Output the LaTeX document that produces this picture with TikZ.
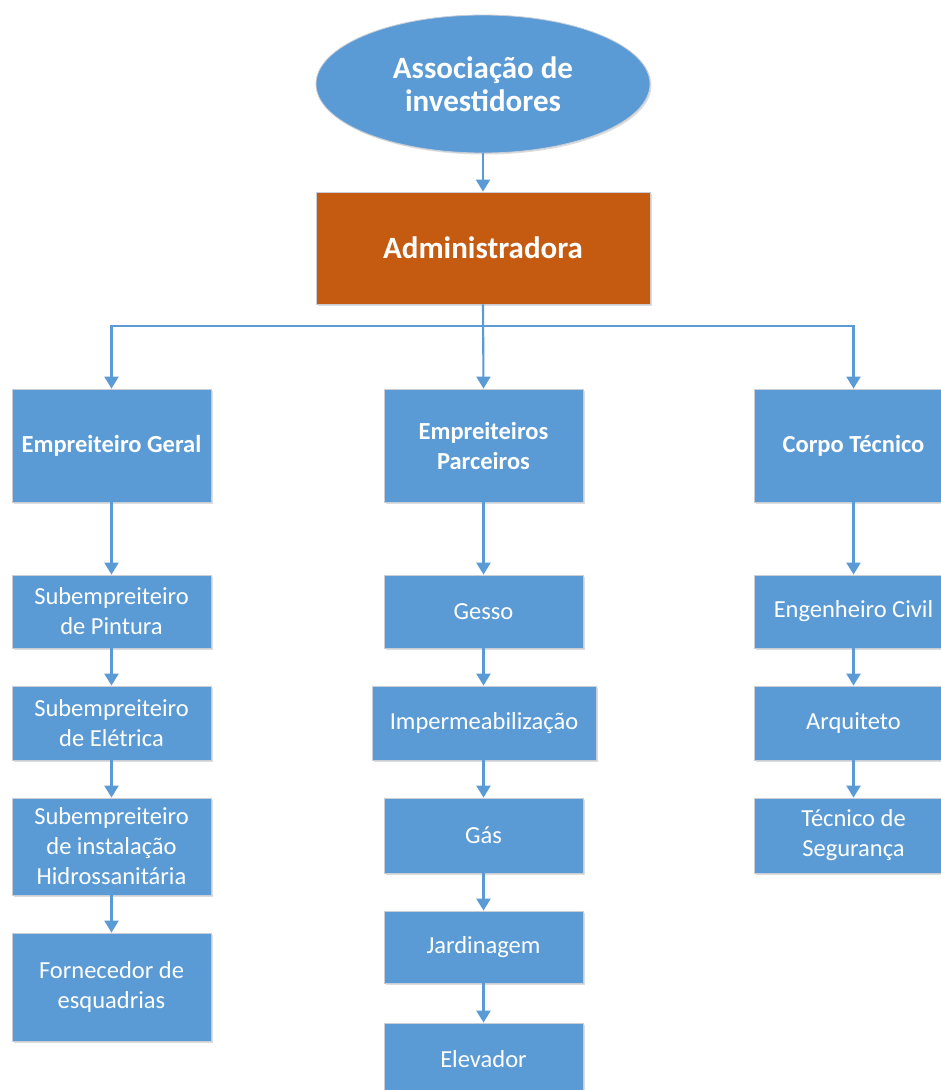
\documentclass[tikz,border=0pt]{standalone}
\usepackage{fontspec}
\setmainfont{Carlito}
\usetikzlibrary{arrows.meta,shapes.geometric,shadows}

\definecolor{boxblue}{HTML}{5B9BD5}
\definecolor{boxorange}{HTML}{C55A11}
\definecolor{edgegray}{HTML}{C9CED6}

\tikzset{
  card/.style={rectangle, fill=boxblue, draw=edgegray, line width=0.8pt,
    text=white, align=center, inner sep=0pt, minimum width=199pt,
    drop shadow={shadow xshift=1.5pt, shadow yshift=-1.5pt, opacity=0.22, fill=black!60}},
  headcard/.style={card, font=\bfseries\fontsize{24.5}{30}\selectfont},
  subcard/.style={card, font=\fontsize{24.5}{30}\selectfont},
  link/.style={draw=boxblue, line width=2.1pt,
    -{Triangle[width=14pt,length=12pt]}},
}

\begin{document}
\begin{tikzpicture}[x=1pt, y=-1pt]
  \useasboundingbox (0,0) rectangle (941,1090);
  \fill[white] (0,0) rectangle (941,1090);
  \clip (0,0) rectangle (941,1090);

  % top of the hierarchy
  \node[ellipse, fill=boxblue, draw=edgegray, line width=0.8pt, text=white,
        minimum width=334pt, minimum height=138pt, inner sep=0pt, align=center,
        font=\bfseries\fontsize{31}{33}\selectfont,
        drop shadow={shadow xshift=1.5pt, shadow yshift=-1.5pt, opacity=0.22, fill=black!60}]
        (assoc) at (483,84) {Associação de\\investidores};
  \node[card, fill=boxorange, minimum width=334pt, minimum height=112pt,
        font=\bfseries\fontsize{31}{33}\selectfont]
        (admin) at (483,248) {Administradora};

  % first level
  \node[headcard, minimum height=113pt] (geral) at (111.5,445.5) {Empreiteiro Geral};
  \node[headcard, minimum height=113pt] (parc)  at (483.5,445.5) {Empreiteiros\\Parceiros};
  \node[headcard, minimum height=113pt] (corpo) at (853.5,445.5) {Corpo Técnico};

  % left column
  \node[subcard, minimum height=73pt]  (pint)  at (111.5,611.5) {Subempreiteiro\\de Pintura};
  \node[subcard, minimum height=74pt]  (elet)  at (111.5,723)   {Subempreiteiro\\de Elétrica};
  \node[subcard, minimum height=97pt]  (hidro) at (111.5,846.5) {Subempreiteiro\\de instalação\\Hidrossanitária};
  \node[subcard, minimum height=108pt] (forn)  at (111.5,987)   {Fornecedor de\\esquadrias};

  % middle column
  \node[subcard, minimum height=73pt] (gesso) at (483.5,611.5) {Gesso};
  \node[subcard, minimum height=74pt, minimum width=224pt] (imper) at (484,723) {Impermeabilização};
  \node[subcard, minimum height=75pt] (gas)   at (483.5,835.5) {Gás};
  \node[subcard, minimum height=72pt] (jard)  at (483.5,947)   {Jardinagem};
  \node[subcard, minimum height=73pt] (elev)  at (483.5,1059.5) {Elevador};

  % right column
  \node[subcard, minimum height=73pt] (eng)  at (853.5,611.5) {Engenheiro Civil};
  \node[subcard, minimum height=74pt] (arq)  at (853.5,723)   {Arquiteto};
  \node[subcard, minimum height=75pt] (tec)  at (853.5,835.5) {Técnico de\\Segurança};

  % connectors
  \coordinate (bus) at (483,326);
  \draw[link] (assoc) -- (admin);
  \draw[link] (admin.south) -- (parc.north);
  \draw[link] (bus) -| (geral.north);
  \draw[link] (bus) -| (corpo.north);

  \draw[link] (geral) -- (pint);
  \draw[link] (pint) -- (elet);
  \draw[link] (elet) -- (hidro);
  \draw[link] (hidro) -- (forn);

  \draw[link] (parc) -- (gesso);
  \draw[link] (gesso) -- (imper.north -| gesso.south);
  \draw[link] (imper.south -| gas.north) -- (gas);
  \draw[link] (gas) -- (jard);
  \draw[link] (jard) -- (elev);

  \draw[link] (corpo) -- (eng);
  \draw[link] (eng) -- (arq);
  \draw[link] (arq) -- (tec);
\end{tikzpicture}
\end{document}
